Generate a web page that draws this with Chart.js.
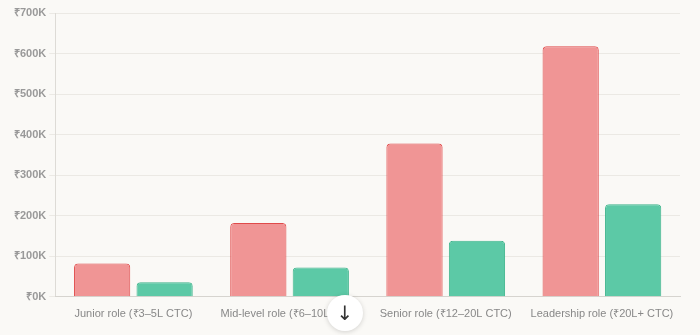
<!DOCTYPE html>
<html>
<head>
<meta charset="utf-8">
<script src="https://cdn.jsdelivr.net/npm/chart.js@4"></script>
<style>
  html, body { margin: 0; padding: 0; background: #faf9f6; }
  .wrap { position: relative; width: 700px; height: 335px; }
  .scroll-btn {
    position: absolute; left: 327px; top: 295px; width: 36px; height: 36px;
    border-radius: 50%; background: #ffffff;
    box-shadow: 0 1px 5px rgba(0,0,0,0.16);
    font: 20px "DejaVu Sans", sans-serif; color: #333;
    display: flex; align-items: center; justify-content: center;
  }
</style>
</head>
<body>
<div class="wrap">
  <canvas id="barChart" width="700" height="335"></canvas>
  <div class="scroll-btn">↓</div>
</div>
<script>
const roles = ['Junior role (₹3–5L CTC)', 'Mid-level role (₹6–10L CTC)', 'Senior role (₹12–20L CTC)', 'Leadership role (₹20L+ CTC)'];
const costOfBadHire = [82000, 182000, 378000, 618000];
const costToReplace = [36000, 72000, 138000, 228000];

const ctx = document.getElementById('barChart').getContext('2d');

new Chart(ctx, {
    type: 'bar',
    data: {
        labels: roles,
        datasets: [{
            label: 'Cost of a bad hire',
            data: costOfBadHire,
            backgroundColor: '#f09595',
            borderColor: '#e04a4a',
            borderWidth: 1,
            borderRadius: 4,
            borderSkipped: 'bottom'
        }, {
            label: 'Cost to replace',
            data: costToReplace,
            backgroundColor: '#5cc9a6',
            borderColor: '#3fb48c',
            borderWidth: 1,
            borderRadius: 4,
            borderSkipped: 'bottom'
        }]
    },
    options: {
        responsive: false,
        animation: false,
        layout: { padding: { top: 13, right: 20, left: 11, bottom: 11 } },
        plugins: {
            legend: { display: false },
            tooltip: { enabled: false }
        },
        scales: {
            y: {
                min: 0,
                max: 700000,
                ticks: {
                    stepSize: 100000,
                    color: '#999',
                    font: { family: 'Liberation Sans', size: 11, weight: 'bold' },
                    callback: v => '₹' + (v / 1000) + 'K'
                },
                grid: { color: '#ebe9e4', tickLength: 6 },
                border: { color: '#dddbd6' }
            },
            x: {
                ticks: {
                    color: '#888',
                    font: { family: 'Liberation Sans', size: 11 },
                    maxRotation: 0
                },
                grid: { display: false },
                border: { color: '#d6d4cf' }
            }
        }
    }
});
</script>
</body>
</html>
